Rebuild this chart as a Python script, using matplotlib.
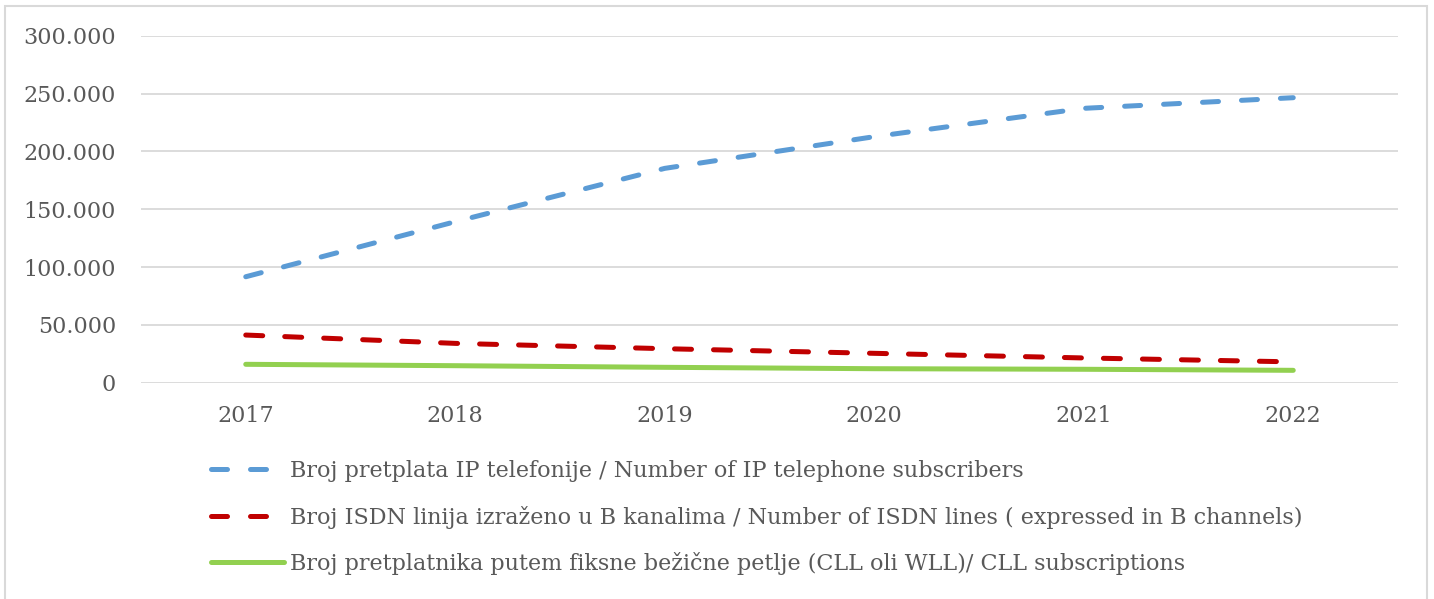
import matplotlib
matplotlib.use("Agg")
import matplotlib.pyplot as plt
from matplotlib.lines import Line2D
from matplotlib.patches import Rectangle
from matplotlib.ticker import FuncFormatter

years = ["2017", "2018", "2019", "2020", "2021", "2022"]
ip_subscribers = [91600, 139200, 185300, 212700, 237200, 246400]
isdn_lines = [41200, 34000, 29400, 25400, 21400, 18000]
cll_subscriptions = [15900, 14700, 13300, 12100, 11600, 10700]

labels = [
    "Broj pretplata IP telefonije / Number of IP telephone subscribers",
    "Broj ISDN linija izraženo u B kanalima / Number of ISDN lines ( expressed in B channels)",
    "Broj pretplatnika putem fiksne bežične petlje (CLL oli WLL)/ CLL subscriptions",
]

plt.rcParams['font.family'] = ['DejaVu Serif']
text_col = "#595959"

fig = plt.figure(figsize=(14.34, 5.99), dpi=100)
fig.patches.append(Rectangle((5 / 1434, -0.1), 1422 / 1434, 1.1 - 6 / 599,
                             transform=fig.transFigure, fill=False,
                             edgecolor="#d9d9d9", lw=1.5))
ax = fig.add_axes([141 / 1434, 1 - 382.7 / 599, 1257 / 1434, 347 / 599])

x = list(range(len(years)))
ax.plot(x, ip_subscribers, color="#5b9bd5", lw=3.6, dashes=(3.2, 4.6),
        dash_capstyle="round", label=labels[0])
ax.plot(x, isdn_lines, color="#c00000", lw=3.6, dashes=(3.4, 4.4),
        dash_capstyle="round", label=labels[1])
ax.plot(x, cll_subscriptions, color="#92d050", lw=3.6,
        solid_capstyle="round", label=labels[2])

ax.set_xlim(-0.5, len(years) - 0.5)
ax.set_ylim(0, 300000)
ax.set_yticks(range(0, 300001, 50000))
ax.yaxis.set_major_formatter(FuncFormatter(lambda v, p: f"{int(v):,}".replace(",", ".")))
ax.set_xticks(x)
ax.set_xticklabels(years)
ax.grid(axis="y", color="#d9d9d9", lw=1.3)
ax.set_axisbelow(True)
for s in ax.spines.values():
    s.set_visible(False)
ax.tick_params(length=0, labelsize=16, labelcolor=text_col)
ax.tick_params(axis="y", pad=18)
ax.tick_params(axis="x", pad=16)

handles = [
    Line2D([], [], color="#5b9bd5", lw=3.6, dashes=(3.2, 4.6), dash_capstyle="round"),
    Line2D([], [], color="#c00000", lw=3.6, dashes=(3.2, 4.6), dash_capstyle="round"),
    Line2D([], [], color="#92d050", lw=3.6, solid_capstyle="round"),
]
leg = fig.legend(handles, labels, loc="upper left", bbox_to_anchor=(200 / 1434, 1 - 449 / 599),
                 frameon=False, fontsize=16, handlelength=3.3, handletextpad=0.25,
                 labelspacing=1.06, borderpad=0)
for t in leg.get_texts():
    t.set_color(text_col)

fig.savefig("out.png", dpi=100)
